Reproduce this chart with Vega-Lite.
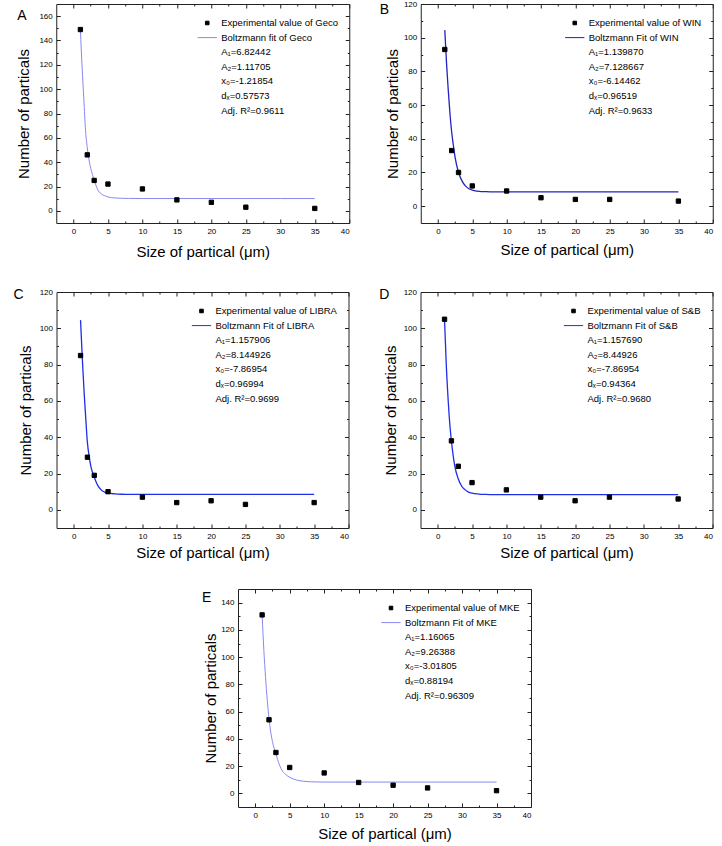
{
  "$schema": "https://vega.github.io/schema/vega-lite/v6.json",
  "padding": {"left": 13, "top": -1, "right": 0, "bottom": 0},
  "background": "white",
  "datasets": {
    "A_exp": [{"x":1,"y":149,"series":"Experimental value of Geco"},{"x":2,"y":46,"series":"Experimental value of Geco"},{"x":3,"y":25,"series":"Experimental value of Geco"},{"x":5,"y":22,"series":"Experimental value of Geco"},{"x":10,"y":18,"series":"Experimental value of Geco"},{"x":15,"y":9,"series":"Experimental value of Geco"},{"x":20,"y":7,"series":"Experimental value of Geco"},{"x":25,"y":3,"series":"Experimental value of Geco"},{"x":35,"y":2,"series":"Experimental value of Geco"}],
    "A_fit": [{"x":1,"y":149},{"x":1.25,"y":118},{"x":1.5,"y":92},{"x":1.75,"y":66},{"x":2,"y":52},{"x":2.25,"y":42},{"x":2.5,"y":35},{"x":3,"y":25.5},{"x":3.5,"y":17.5},{"x":4,"y":14},{"x":4.5,"y":12.5},{"x":5,"y":11.4},{"x":6,"y":10.6},{"x":7,"y":10.3},{"x":8,"y":10.2},{"x":10,"y":10.1},{"x":15,"y":10.1},{"x":20,"y":10.1},{"x":25,"y":10.1},{"x":30,"y":10.1},{"x":35,"y":10.1}],
    "B_exp": [{"x":1,"y":93,"series":"Experimental value of WIN"},{"x":2,"y":33,"series":"Experimental value of WIN"},{"x":3,"y":20,"series":"Experimental value of WIN"},{"x":5,"y":12,"series":"Experimental value of WIN"},{"x":10,"y":9,"series":"Experimental value of WIN"},{"x":15,"y":5,"series":"Experimental value of WIN"},{"x":20,"y":4,"series":"Experimental value of WIN"},{"x":25,"y":4,"series":"Experimental value of WIN"},{"x":35,"y":3,"series":"Experimental value of WIN"}],
    "B_fit": [{"x":1,"y":104.5},{"x":1.25,"y":85},{"x":1.5,"y":69},{"x":1.75,"y":55},{"x":2,"y":44},{"x":2.25,"y":36},{"x":2.5,"y":29},{"x":3,"y":20},{"x":3.5,"y":15},{"x":4,"y":12},{"x":4.5,"y":10.3},{"x":5,"y":9.5},{"x":6,"y":8.8},{"x":7,"y":8.6},{"x":8,"y":8.5},{"x":10,"y":8.5},{"x":15,"y":8.5},{"x":20,"y":8.5},{"x":25,"y":8.5},{"x":30,"y":8.5},{"x":35,"y":8.5}],
    "C_exp": [{"x":1,"y":85,"series":"Experimental value of LIBRA"},{"x":2,"y":29,"series":"Experimental value of LIBRA"},{"x":3,"y":19,"series":"Experimental value of LIBRA"},{"x":5,"y":10,"series":"Experimental value of LIBRA"},{"x":10,"y":7,"series":"Experimental value of LIBRA"},{"x":15,"y":4,"series":"Experimental value of LIBRA"},{"x":20,"y":5,"series":"Experimental value of LIBRA"},{"x":25,"y":3,"series":"Experimental value of LIBRA"},{"x":35,"y":4,"series":"Experimental value of LIBRA"}],
    "C_fit": [{"x":1,"y":104.5},{"x":1.25,"y":84},{"x":1.5,"y":66},{"x":1.75,"y":51},{"x":2,"y":37},{"x":2.25,"y":29.5},{"x":2.5,"y":24},{"x":3,"y":18},{"x":3.5,"y":13.5},{"x":4,"y":11},{"x":4.5,"y":9.8},{"x":5,"y":9.2},{"x":6,"y":8.8},{"x":7,"y":8.6},{"x":8,"y":8.5},{"x":10,"y":8.5},{"x":15,"y":8.5},{"x":20,"y":8.5},{"x":25,"y":8.5},{"x":30,"y":8.5},{"x":35,"y":8.5}],
    "D_exp": [{"x":1,"y":105,"series":"Experimental value of S&B"},{"x":2,"y":38,"series":"Experimental value of S&B"},{"x":3,"y":24,"series":"Experimental value of S&B"},{"x":5,"y":15,"series":"Experimental value of S&B"},{"x":10,"y":11,"series":"Experimental value of S&B"},{"x":15,"y":7,"series":"Experimental value of S&B"},{"x":20,"y":5,"series":"Experimental value of S&B"},{"x":25,"y":7,"series":"Experimental value of S&B"},{"x":35,"y":6,"series":"Experimental value of S&B"}],
    "D_fit": [{"x":1,"y":104.5},{"x":1.25,"y":80},{"x":1.5,"y":62},{"x":1.75,"y":48},{"x":2,"y":38},{"x":2.25,"y":30},{"x":2.5,"y":24},{"x":3,"y":17},{"x":3.5,"y":13},{"x":4,"y":11},{"x":4.5,"y":9.8},{"x":5,"y":9.2},{"x":6,"y":8.7},{"x":7,"y":8.5},{"x":8,"y":8.4},{"x":10,"y":8.4},{"x":15,"y":8.4},{"x":20,"y":8.4},{"x":25,"y":8.4},{"x":30,"y":8.4},{"x":35,"y":8.4}],
    "E_exp": [{"x":1,"y":131,"series":"Experimental value of MKE"},{"x":2,"y":54,"series":"Experimental value of MKE"},{"x":3,"y":30,"series":"Experimental value of MKE"},{"x":5,"y":19,"series":"Experimental value of MKE"},{"x":10,"y":15,"series":"Experimental value of MKE"},{"x":15,"y":8,"series":"Experimental value of MKE"},{"x":20,"y":6,"series":"Experimental value of MKE"},{"x":25,"y":4,"series":"Experimental value of MKE"},{"x":35,"y":2,"series":"Experimental value of MKE"}],
    "E_fit": [{"x":1,"y":131},{"x":1.25,"y":105},{"x":1.5,"y":85},{"x":1.75,"y":68},{"x":2,"y":55},{"x":2.25,"y":45},{"x":2.5,"y":38},{"x":3,"y":29},{"x":3.5,"y":21},{"x":4,"y":16},{"x":4.5,"y":13.5},{"x":5,"y":11.8},{"x":6,"y":9.8},{"x":7,"y":8.9},{"x":8,"y":8.5},{"x":10,"y":8.3},{"x":15,"y":8.3},{"x":20,"y":8.3},{"x":25,"y":8.3},{"x":30,"y":8.3},{"x":35,"y":8.3}]
  },
  "vconcat": [
    {
      "hconcat": [
        {
          "width": 293, "height": 219,
          "title": {"text": "A", "dx": -39, "offset": -19.5},
          "layer": [
            {"data": {"name": "A_fit"}, "mark": {"type": "line", "interpolate": "monotone", "strokeWidth": 1, "color": "#8888f0"},
             "encoding": {
               "x": {"field": "x", "type": "quantitative", "scale": {"domain": [-2.5, 40], "nice": false, "zero": false}, "axis": {"orient": "bottom", "values": [0,5,10,15,20,25,30,35,40], "title": "Size of partical (μm)", "titlePadding": 9}},
               "y": {"field": "y", "type": "quantitative", "scale": {"domain": [-10, 170], "nice": false, "zero": false}, "axis": {"orient": "left", "values": [0,20,40,60,80,100,120,140,160], "title": "Number of particals", "titlePadding": 7}}}},
            {"data": {"name": "A_exp"}, "mark": {"type": "point", "filled": true, "size": 300, "opacity": 1, "strokeWidth": 1},
             "encoding": {
               "x": {"field": "x", "type": "quantitative", "axis": {"orient": "top", "values": [0,5,10,15,20,25,30,35,40], "labels": false, "title": null}},
               "y": {"field": "y", "type": "quantitative", "axis": {"orient": "right", "values": [0,20,40,60,80,100,120,140,160], "labels": false, "title": null}},
               "color": {"field": "series", "type": "nominal", "legend": {"title": null},
                 "scale": {"domain": ["Experimental value of Geco", "Boltzmann fit of Geco", "A₁=6.82442", "A₂=1.11705", "x₀=-1.21854", "dₓ=0.57573", "Adj. R²=0.9611"], "range": ["black", "transparent", "transparent", "transparent", "transparent", "transparent", "transparent"]}},
               "stroke": {"field": "series", "type": "nominal", "legend": {"title": null},
                 "scale": {"domain": ["Experimental value of Geco", "Boltzmann fit of Geco", "A₁=6.82442", "A₂=1.11705", "x₀=-1.21854", "dₓ=0.57573", "Adj. R²=0.9611"], "range": ["black", "#8888f0", "transparent", "transparent", "transparent", "transparent", "transparent"]}},
               "shape": {"field": "series", "type": "nominal", "legend": {"title": null},
                 "scale": {"domain": ["Experimental value of Geco", "Boltzmann fit of Geco", "A₁=6.82442", "A₂=1.11705", "x₀=-1.21854", "dₓ=0.57573", "Adj. R²=0.9611"], "range": ["M-0.25,-0.25H0.25V0.25H-0.25Z", "M-1.35,0H1.35", "M0,0", "M0,0", "M0,0", "M0,0", "M0,0"]}}}},
            {"data": {"name": "A_exp"}, "mark": {"type": "point", "opacity": 0},
             "encoding": {
               "x": {"field": "x", "type": "quantitative", "axis": {"orient": "bottom", "values": [2.5,7.5,12.5,17.5,22.5,27.5,32.5,37.5], "labels": false, "title": null, "tickSize": -2}},
               "y": {"field": "y", "type": "quantitative", "axis": {"orient": "left", "values": [10,30,50,70,90,110,130,150], "labels": false, "title": null, "tickSize": -2}}}},
            {"data": {"name": "A_exp"}, "mark": {"type": "point", "opacity": 0},
             "encoding": {
               "x": {"field": "x", "type": "quantitative", "axis": {"orient": "top", "values": [2.5,7.5,12.5,17.5,22.5,27.5,32.5,37.5], "labels": false, "title": null, "tickSize": -2}},
               "y": {"field": "y", "type": "quantitative", "axis": {"orient": "right", "values": [10,30,50,70,90,110,130,150], "labels": false, "title": null, "tickSize": -2}}}}
          ],
          "resolve": {"axis": {"x": "independent", "y": "independent"}}
        },
        {
          "width": 292, "height": 219,
          "title": {"text": "B", "dx": -41, "offset": -17},
          "layer": [
            {"data": {"name": "B_fit"}, "mark": {"type": "line", "interpolate": "monotone", "strokeWidth": 1.3, "color": "#2222c0"},
             "encoding": {
               "x": {"field": "x", "type": "quantitative", "scale": {"domain": [-2.5, 40], "nice": false, "zero": false}, "axis": {"orient": "bottom", "values": [0,5,10,15,20,25,30,35,40], "title": "Size of partical (μm)", "titlePadding": 7}},
               "y": {"field": "y", "type": "quantitative", "scale": {"domain": [-10, 120], "nice": false, "zero": false}, "axis": {"orient": "left", "values": [0,20,40,60,80,100,120], "title": "Number of particals", "titlePadding": 3}}}},
            {"data": {"name": "B_exp"}, "mark": {"type": "point", "filled": true, "size": 300, "opacity": 1, "strokeWidth": 1},
             "encoding": {
               "x": {"field": "x", "type": "quantitative", "axis": {"orient": "top", "values": [0,5,10,15,20,25,30,35,40], "labels": false, "title": null}},
               "y": {"field": "y", "type": "quantitative", "axis": {"orient": "right", "values": [0,20,40,60,80,100,120], "labels": false, "title": null}},
               "color": {"field": "series", "type": "nominal", "legend": {"title": null},
                 "scale": {"domain": ["Experimental value of WIN", "Boltzmann Fit of WIN", "A₁=1.139870", "A₂=7.128667", "x₀=-6.14462", "dₓ=0.96519", "Adj. R²=0.9633"], "range": ["black", "transparent", "transparent", "transparent", "transparent", "transparent", "transparent"]}},
               "stroke": {"field": "series", "type": "nominal", "legend": {"title": null},
                 "scale": {"domain": ["Experimental value of WIN", "Boltzmann Fit of WIN", "A₁=1.139870", "A₂=7.128667", "x₀=-6.14462", "dₓ=0.96519", "Adj. R²=0.9633"], "range": ["black", "#2222c0", "transparent", "transparent", "transparent", "transparent", "transparent"]}},
               "shape": {"field": "series", "type": "nominal", "legend": {"title": null},
                 "scale": {"domain": ["Experimental value of WIN", "Boltzmann Fit of WIN", "A₁=1.139870", "A₂=7.128667", "x₀=-6.14462", "dₓ=0.96519", "Adj. R²=0.9633"], "range": ["M-0.25,-0.25H0.25V0.25H-0.25Z", "M-1.35,0H1.35", "M0,0", "M0,0", "M0,0", "M0,0", "M0,0"]}}}},
            {"data": {"name": "B_exp"}, "mark": {"type": "point", "opacity": 0},
             "encoding": {
               "x": {"field": "x", "type": "quantitative", "axis": {"orient": "bottom", "values": [2.5,7.5,12.5,17.5,22.5,27.5,32.5,37.5], "labels": false, "title": null, "tickSize": -2}},
               "y": {"field": "y", "type": "quantitative", "axis": {"orient": "left", "values": [10,30,50,70,90,110], "labels": false, "title": null, "tickSize": -2}}}},
            {"data": {"name": "B_exp"}, "mark": {"type": "point", "opacity": 0},
             "encoding": {
               "x": {"field": "x", "type": "quantitative", "axis": {"orient": "top", "values": [2.5,7.5,12.5,17.5,22.5,27.5,32.5,37.5], "labels": false, "title": null, "tickSize": -2}},
               "y": {"field": "y", "type": "quantitative", "axis": {"orient": "right", "values": [10,30,50,70,90,110], "labels": false, "title": null, "tickSize": -2}}}}
          ],
          "resolve": {"axis": {"x": "independent", "y": "independent"}}
        }
      ],
      "spacing": 28.5,
      "resolve": {"scale": {"color": "independent", "stroke": "independent", "shape": "independent"}, "legend": {"color": "independent", "stroke": "independent", "shape": "independent"}}
    },
    {
      "hconcat": [
        {
          "width": 292, "height": 236,
          "title": {"text": "C", "dx": -43, "offset": -13.7},
          "layer": [
            {"data": {"name": "C_fit"}, "mark": {"type": "line", "interpolate": "monotone", "strokeWidth": 1.3, "color": "#1f2fe8"},
             "encoding": {
               "x": {"field": "x", "type": "quantitative", "scale": {"domain": [-2.5, 40], "nice": false, "zero": false}, "axis": {"orient": "bottom", "values": [0,5,10,15,20,25,30,35,40], "title": "Size of partical (μm)", "titlePadding": 5}},
               "y": {"field": "y", "type": "quantitative", "scale": {"domain": [-10, 120], "nice": false, "zero": false}, "axis": {"orient": "left", "values": [0,20,40,60,80,100,120], "title": "Number of particals", "titlePadding": 5.4}}}},
            {"data": {"name": "C_exp"}, "mark": {"type": "point", "filled": true, "size": 300, "opacity": 1, "strokeWidth": 1},
             "encoding": {
               "x": {"field": "x", "type": "quantitative", "axis": {"orient": "top", "values": [0,5,10,15,20,25,30,35,40], "labels": false, "title": null}},
               "y": {"field": "y", "type": "quantitative", "axis": {"orient": "right", "values": [0,20,40,60,80,100,120], "labels": false, "title": null}},
               "color": {"field": "series", "type": "nominal", "legend": {"title": null},
                 "scale": {"domain": ["Experimental value of LIBRA", "Boltzmann Fit of LIBRA", "A₁=1.157906", "A₂=8.144926", "x₀=-7.86954", "dₓ=0.96994", "Adj. R²=0.9699"], "range": ["black", "transparent", "transparent", "transparent", "transparent", "transparent", "transparent"]}},
               "stroke": {"field": "series", "type": "nominal", "legend": {"title": null},
                 "scale": {"domain": ["Experimental value of LIBRA", "Boltzmann Fit of LIBRA", "A₁=1.157906", "A₂=8.144926", "x₀=-7.86954", "dₓ=0.96994", "Adj. R²=0.9699"], "range": ["black", "#1f2fe8", "transparent", "transparent", "transparent", "transparent", "transparent"]}},
               "shape": {"field": "series", "type": "nominal", "legend": {"title": null},
                 "scale": {"domain": ["Experimental value of LIBRA", "Boltzmann Fit of LIBRA", "A₁=1.157906", "A₂=8.144926", "x₀=-7.86954", "dₓ=0.96994", "Adj. R²=0.9699"], "range": ["M-0.25,-0.25H0.25V0.25H-0.25Z", "M-1.35,0H1.35", "M0,0", "M0,0", "M0,0", "M0,0", "M0,0"]}}}},
            {"data": {"name": "C_exp"}, "mark": {"type": "point", "opacity": 0},
             "encoding": {
               "x": {"field": "x", "type": "quantitative", "axis": {"orient": "bottom", "values": [2.5,7.5,12.5,17.5,22.5,27.5,32.5,37.5], "labels": false, "title": null, "tickSize": -2}},
               "y": {"field": "y", "type": "quantitative", "axis": {"orient": "left", "values": [10,30,50,70,90,110], "labels": false, "title": null, "tickSize": -2}}}},
            {"data": {"name": "C_exp"}, "mark": {"type": "point", "opacity": 0},
             "encoding": {
               "x": {"field": "x", "type": "quantitative", "axis": {"orient": "top", "values": [2.5,7.5,12.5,17.5,22.5,27.5,32.5,37.5], "labels": false, "title": null, "tickSize": -2}},
               "y": {"field": "y", "type": "quantitative", "axis": {"orient": "right", "values": [10,30,50,70,90,110], "labels": false, "title": null, "tickSize": -2}}}}
          ],
          "resolve": {"axis": {"x": "independent", "y": "independent"}}
        },
        {
          "width": 292, "height": 236,
          "title": {"text": "D", "dx": -41.3, "offset": -13.7},
          "layer": [
            {"data": {"name": "D_fit"}, "mark": {"type": "line", "interpolate": "monotone", "strokeWidth": 1.3, "color": "#1f2fe8"},
             "encoding": {
               "x": {"field": "x", "type": "quantitative", "scale": {"domain": [-2.5, 40], "nice": false, "zero": false}, "axis": {"orient": "bottom", "values": [0,5,10,15,20,25,30,35,40], "title": "Size of partical (μm)", "titlePadding": 5}},
               "y": {"field": "y", "type": "quantitative", "scale": {"domain": [-10, 120], "nice": false, "zero": false}, "axis": {"orient": "left", "values": [0,20,40,60,80,100,120], "title": "Number of particals", "titlePadding": 4.7}}}},
            {"data": {"name": "D_exp"}, "mark": {"type": "point", "filled": true, "size": 300, "opacity": 1, "strokeWidth": 1},
             "encoding": {
               "x": {"field": "x", "type": "quantitative", "axis": {"orient": "top", "values": [0,5,10,15,20,25,30,35,40], "labels": false, "title": null}},
               "y": {"field": "y", "type": "quantitative", "axis": {"orient": "right", "values": [0,20,40,60,80,100,120], "labels": false, "title": null}},
               "color": {"field": "series", "type": "nominal", "legend": {"title": null},
                 "scale": {"domain": ["Experimental value of S&B", "Boltzmann Fit of S&B", "A₁=1.157690", "A₂=8.44926", "x₀=-7.86954", "dₓ=0.94364", "Adj. R²=0.9680"], "range": ["black", "transparent", "transparent", "transparent", "transparent", "transparent", "transparent"]}},
               "stroke": {"field": "series", "type": "nominal", "legend": {"title": null},
                 "scale": {"domain": ["Experimental value of S&B", "Boltzmann Fit of S&B", "A₁=1.157690", "A₂=8.44926", "x₀=-7.86954", "dₓ=0.94364", "Adj. R²=0.9680"], "range": ["black", "#1f2fe8", "transparent", "transparent", "transparent", "transparent", "transparent"]}},
               "shape": {"field": "series", "type": "nominal", "legend": {"title": null},
                 "scale": {"domain": ["Experimental value of S&B", "Boltzmann Fit of S&B", "A₁=1.157690", "A₂=8.44926", "x₀=-7.86954", "dₓ=0.94364", "Adj. R²=0.9680"], "range": ["M-0.25,-0.25H0.25V0.25H-0.25Z", "M-1.35,0H1.35", "M0,0", "M0,0", "M0,0", "M0,0", "M0,0"]}}}},
            {"data": {"name": "D_exp"}, "mark": {"type": "point", "opacity": 0},
             "encoding": {
               "x": {"field": "x", "type": "quantitative", "axis": {"orient": "bottom", "values": [2.5,7.5,12.5,17.5,22.5,27.5,32.5,37.5], "labels": false, "title": null, "tickSize": -2}},
               "y": {"field": "y", "type": "quantitative", "axis": {"orient": "left", "values": [10,30,50,70,90,110], "labels": false, "title": null, "tickSize": -2}}}},
            {"data": {"name": "D_exp"}, "mark": {"type": "point", "opacity": 0},
             "encoding": {
               "x": {"field": "x", "type": "quantitative", "axis": {"orient": "top", "values": [2.5,7.5,12.5,17.5,22.5,27.5,32.5,37.5], "labels": false, "title": null, "tickSize": -2}},
               "y": {"field": "y", "type": "quantitative", "axis": {"orient": "right", "values": [10,30,50,70,90,110], "labels": false, "title": null, "tickSize": -2}}}}
          ],
          "resolve": {"axis": {"x": "independent", "y": "independent"}}
        }
      ],
      "spacing": 29,
      "resolve": {"scale": {"color": "independent", "stroke": "independent", "shape": "independent"}, "legend": {"color": "independent", "stroke": "independent", "shape": "independent"}}
    },
    {
      "width": 293, "height": 218,
      "title": {"text": "E", "dx": -36, "offset": -16.5},
      "layer": [
        {"data": {"name": "E_fit"}, "mark": {"type": "line", "interpolate": "monotone", "strokeWidth": 1, "color": "#8888f0"},
         "encoding": {
           "x": {"field": "x", "type": "quantitative", "scale": {"domain": [-2.5, 40], "nice": false, "zero": false}, "axis": {"orient": "bottom", "values": [0,5,10,15,20,25,30,35,40], "title": "Size of partical (μm)", "titlePadding": 7.5}},
           "y": {"field": "y", "type": "quantitative", "scale": {"domain": [-10, 150], "nice": false, "zero": false}, "axis": {"orient": "left", "values": [0,20,40,60,80,100,120,140], "title": "Number of particals", "titlePadding": 2.4}}}},
        {"data": {"name": "E_exp"}, "mark": {"type": "point", "filled": true, "size": 300, "opacity": 1, "strokeWidth": 1},
         "encoding": {
           "x": {"field": "x", "type": "quantitative", "axis": {"orient": "top", "values": [0,5,10,15,20,25,30,35,40], "labels": false, "title": null}},
           "y": {"field": "y", "type": "quantitative", "axis": {"orient": "right", "values": [0,20,40,60,80,100,120,140], "labels": false, "title": null}},
           "color": {"field": "series", "type": "nominal", "legend": {"title": null},
             "scale": {"domain": ["Experimental value of MKE", "Boltzmann Fit of MKE", "A₁=1.16065", "A₂=9.26388", "x₀=-3.01805", "dₓ=0.88194", "Adj. R²=0.96309"], "range": ["black", "transparent", "transparent", "transparent", "transparent", "transparent", "transparent"]}},
           "stroke": {"field": "series", "type": "nominal", "legend": {"title": null},
             "scale": {"domain": ["Experimental value of MKE", "Boltzmann Fit of MKE", "A₁=1.16065", "A₂=9.26388", "x₀=-3.01805", "dₓ=0.88194", "Adj. R²=0.96309"], "range": ["black", "#8888f0", "transparent", "transparent", "transparent", "transparent", "transparent"]}},
           "shape": {"field": "series", "type": "nominal", "legend": {"title": null},
             "scale": {"domain": ["Experimental value of MKE", "Boltzmann Fit of MKE", "A₁=1.16065", "A₂=9.26388", "x₀=-3.01805", "dₓ=0.88194", "Adj. R²=0.96309"], "range": ["M-0.25,-0.25H0.25V0.25H-0.25Z", "M-1.35,0H1.35", "M0,0", "M0,0", "M0,0", "M0,0", "M0,0"]}}}},
        {"data": {"name": "E_exp"}, "mark": {"type": "point", "opacity": 0},
         "encoding": {
           "x": {"field": "x", "type": "quantitative", "axis": {"orient": "bottom", "values": [2.5,7.5,12.5,17.5,22.5,27.5,32.5,37.5], "labels": false, "title": null, "tickSize": -2}},
           "y": {"field": "y", "type": "quantitative", "axis": {"orient": "left", "values": [10,30,50,70,90,110,130], "labels": false, "title": null, "tickSize": -2}}}},
        {"data": {"name": "E_exp"}, "mark": {"type": "point", "opacity": 0},
         "encoding": {
           "x": {"field": "x", "type": "quantitative", "axis": {"orient": "top", "values": [2.5,7.5,12.5,17.5,22.5,27.5,32.5,37.5], "labels": false, "title": null, "tickSize": -2}},
           "y": {"field": "y", "type": "quantitative", "axis": {"orient": "right", "values": [10,30,50,70,90,110,130], "labels": false, "title": null, "tickSize": -2}}}}
      ],
      "resolve": {"axis": {"x": "independent", "y": "independent"}}
    }
  ],
  "spacing": 27,
  "center": true,
  "resolve": {"scale": {"color": "independent", "stroke": "independent", "shape": "independent"}, "legend": {"color": "independent", "stroke": "independent", "shape": "independent"}},
  "config": {
    "font": "Liberation Sans",
    "view": {"stroke": "#222222", "strokeWidth": 1},
    "axis": {"domain": false, "grid": false, "tickColor": "#222222", "tickSize": -4, "labelFont": "Liberation Sans", "labelFontSize": 8, "labelColor": "black", "labelPadding": 8, "titleFont": "Liberation Sans", "titleFontSize": 15, "titleFontWeight": "normal", "titleColor": "black", "titlePadding": 7},
    "title": {"font": "Liberation Sans", "fontSize": 14, "fontWeight": "normal", "anchor": "start", "frame": "group", "color": "black"},
    "legend": {"orient": "top-right", "offset": 11, "padding": 0, "symbolSize": 204, "symbolStrokeWidth": 1, "labelFont": "Liberation Sans", "labelFontSize": 9.5, "labelColor": "black", "rowPadding": 1.6, "labelOffset": 6, "labelLimit": 400}
  }
}
